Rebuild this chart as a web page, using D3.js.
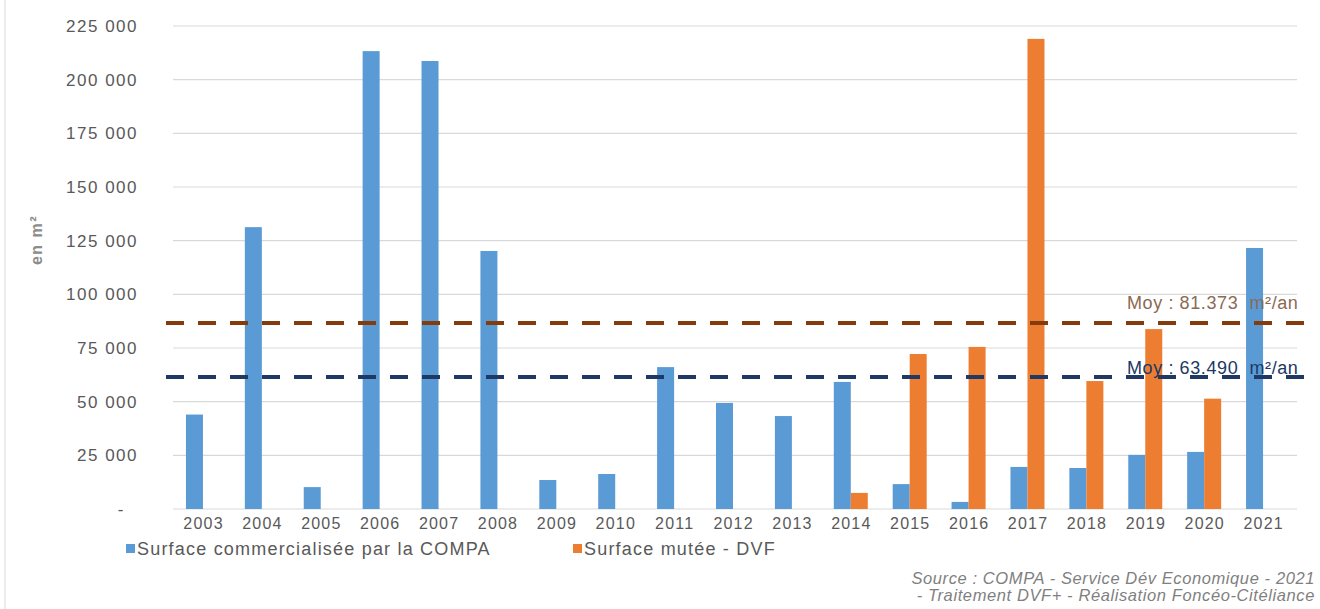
<!DOCTYPE html>
<html><head><meta charset="utf-8">
<script src="https://cdn.jsdelivr.net/npm/d3@7/dist/d3.min.js"></script>
<style>
html,body{margin:0;padding:0;background:#fff;}
svg{display:block;font-family:"Liberation Sans",Arial,sans-serif;}
.pre{white-space:pre;}
</style></head>
<body>
<svg id="chart" width="1320" height="609"></svg>
<script>
const years = ["2003","2004","2005","2006","2007","2008","2009","2010","2011","2012","2013","2014","2015","2016","2017","2018","2019","2020","2021"];
const compa = [44000,131300,10200,213300,208700,120200,13500,16300,66100,49400,43300,59200,11600,3300,19600,19100,25200,26600,121600];
const dvf = [null,null,null,null,null,null,null,null,null,null,null,7500,72200,75500,219000,59600,83800,51400,null];
const yTicks = [0,25000,50000,75000,100000,125000,150000,175000,200000,225000];
const seriesNames = ["Surface commercialisée par la COMPA","Surface mutée - DVF"];
const avgLines = [86600, 61500];
const avgLabels = ["Moy : 81.373  m²/an","Moy : 63.490  m²/an"];
const sourceLines = ["Source : COMPA - Service Dév Economique - 2021","- Traitement DVF+ - Réalisation Foncéo-Citéliance"];

const colors = {compa:"#5B9BD5", dvf:"#ED7D31", avg1:"#843C0C", avg2:"#1F3864", lab1:"#8a6a52", lab2:"#203864"};

const svg = d3.select("#chart");
const x = d3.scaleBand().domain(years).range([173.5,1292.5]).paddingInner(0).paddingOuter(0);
const y = d3.scaleLinear().domain([0,225000]).range([509,26]);
const barW = 17;

// left border
svg.append("line").attr("x1",5).attr("x2",5).attr("y1",0).attr("y2",609).attr("stroke","#d9d9d9").attr("stroke-width",1);

// gridlines
svg.append("g").selectAll("line").data(yTicks).join("line")
  .attr("x1",173).attr("x2",1297)
  .attr("y1",d=>y(d)).attr("y2",d=>y(d))
  .attr("stroke","#d9d9d9").attr("stroke-width",1.2);

// y axis labels
const fmt = d => d===0 ? "-" : d3.format(",")(d).replace(/,/g," ");
svg.append("g").selectAll("text").data(yTicks).join("text")
  .attr("x",d=>d===0?125:138).attr("y",d=>y(d)).attr("dy","0.35em")
  .attr("text-anchor","end").attr("font-size",17).attr("letter-spacing",1.5).attr("fill","#595959")
  .text(fmt);

// y title
svg.append("text").attr("transform","translate(42,240) rotate(-90)")
  .attr("text-anchor","middle").attr("font-size",16).attr("letter-spacing",1.5).attr("font-weight","bold").attr("fill","#8c8c8c")
  .text("en m²");

// bars
svg.append("g").selectAll("rect").data(years.map((yr,i)=>({yr,v:compa[i]}))).join("rect")
  .attr("x",d=>x(d.yr)+x.bandwidth()/2-barW).attr("width",barW)
  .attr("y",d=>y(d.v)).attr("height",d=>y(0)-y(d.v)).attr("fill",colors.compa);
svg.append("g").selectAll("rect").data(years.map((yr,i)=>({yr,v:dvf[i]})).filter(d=>d.v!=null)).join("rect")
  .attr("x",d=>x(d.yr)+x.bandwidth()/2).attr("width",barW)
  .attr("y",d=>y(d.v)).attr("height",d=>y(0)-y(d.v)).attr("fill",colors.dvf);

// avg lines
svg.append("line").attr("x1",166).attr("x2",1310).attr("y1",y(avgLines[0])).attr("y2",y(avgLines[0]))
  .attr("stroke",colors.avg1).attr("stroke-width",4).attr("stroke-dasharray","18,14");
svg.append("line").attr("x1",166).attr("x2",1310).attr("y1",y(avgLines[1])).attr("y2",y(avgLines[1]))
  .attr("stroke",colors.avg2).attr("stroke-width",4).attr("stroke-dasharray","18,14");

// avg labels
svg.append("text").attr("class","pre").attr("x",1127).attr("y",309).attr("font-size",18).attr("letter-spacing",0.6).attr("fill",colors.lab1).text(avgLabels[0]);
svg.append("text").attr("class","pre").attr("x",1127).attr("y",374).attr("font-size",18).attr("letter-spacing",0.6).attr("fill",colors.lab2).text(avgLabels[1]);

// x labels
svg.append("g").selectAll("text").data(years).join("text")
  .attr("x",d=>x(d)+x.bandwidth()/2+0.6).attr("y",529)
  .attr("text-anchor","middle").attr("font-size",16).attr("letter-spacing",1.2).attr("fill","#595959")
  .text(d=>d);

// legend
const leg = [{x:126,c:colors.compa,t:seriesNames[0]},{x:573,c:colors.dvf,t:seriesNames[1]}];
const lg = svg.append("g").selectAll("g").data(leg).join("g");
lg.append("rect").attr("x",d=>d.x).attr("y",544).attr("width",9).attr("height",9).attr("fill",d=>d.c);
lg.append("text").attr("x",d=>d.x+11).attr("y",555).attr("font-size",18).attr("letter-spacing",1.2).attr("fill","#595959").text(d=>d.t);

// source
svg.append("g").selectAll("text").data(sourceLines).join("text")
  .attr("x",1315).attr("y",(d,i)=>584+i*17).attr("text-anchor","end")
  .attr("font-size",16.5).attr("letter-spacing",0.6).attr("font-style","italic").attr("fill","#7f7f7f").text(d=>d);
</script>
</body></html>
